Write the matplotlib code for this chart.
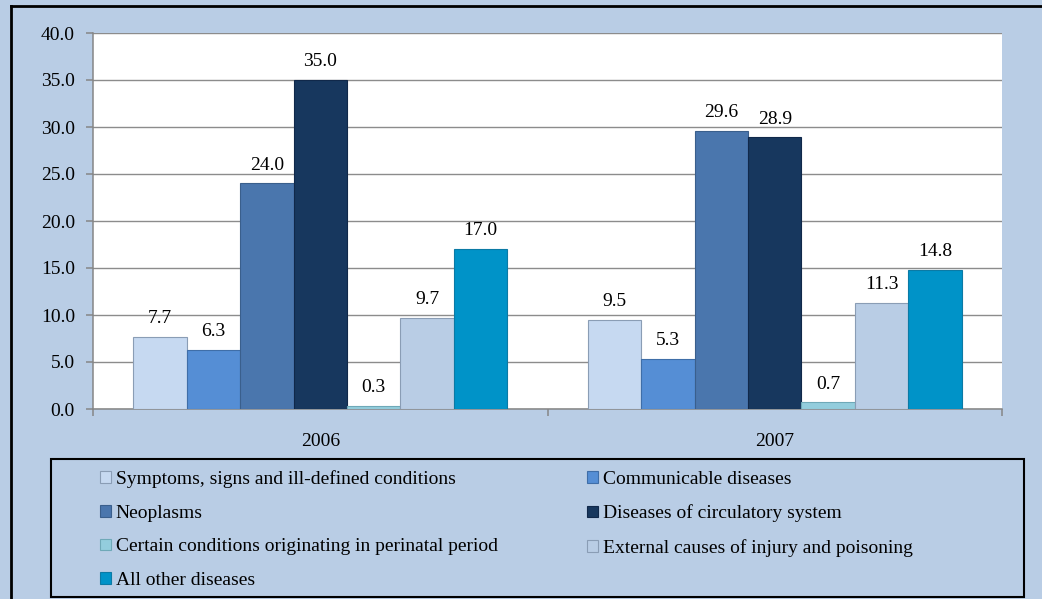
import matplotlib
matplotlib.use("Agg")
import matplotlib.pyplot as plt
import numpy as np
from matplotlib.lines import Line2D
from matplotlib.patches import Rectangle
from matplotlib.font_manager import FontProperties

years = ["2006", "2007"]
series = [
    "Symptoms, signs and ill-defined conditions",
    "Communicable diseases",
    "Neoplasms",
    "Diseases of circulatory system",
    "Certain conditions originating in perinatal period",
    "External causes of injury and poisoning",
    "All other diseases",
]
symptoms = [7.7, 9.5]
communicable = [6.3, 5.3]
neoplasms = [24.0, 29.6]
circulatory = [35.0, 28.9]
perinatal = [0.3, 0.7]
external = [9.7, 11.3]
other = [17.0, 14.8]
values = [symptoms, communicable, neoplasms, circulatory, perinatal, external, other]

colors = ["#C6D9F1", "#558ED5", "#4A76AD", "#17375E", "#93CDDD", "#B9CDE5", "#0093C8"]
edges = ["#8A9DB5", "#3F6EA8", "#3A5F8C", "#10284A", "#6FA9B8", "#8A9DB5", "#0B7AA5"]

bg = "#B9CDE5"
plt.rcParams['font.family'] = ['Liberation Serif', 'DejaVu Serif']
fp = FontProperties(family=['Liberation Serif', 'DejaVu Serif'], size=14)

W, H = 1042, 599
fig = plt.figure(figsize=(W / 100, H / 100), dpi=100, facecolor=bg)
ax = fig.add_axes([93 / W, 1 - 409 / H, (1002 - 93) / W, (409 - 33) / H])
ax.set_facecolor("white")

n = len(series)
bw = 1.0 / (n + 1.5)
x = np.arange(len(years))
handles = []
for i, (name, vals) in enumerate(zip(series, values)):
    pos = x - 0.5 + 0.75 * bw + (i + 0.5) * bw
    b = ax.bar(pos, vals, width=bw, color=colors[i], edgecolor=edges[i], linewidth=0.8,
               label=name, zorder=3)
    ax.bar_label(b, labels=[f"{v:.1f}" for v in vals], padding=7, fontproperties=fp, color="black")
    handles.append(b)

ax.set_xlim(-0.5, 1.5)
ax.set_ylim(0, 40)
ax.set_yticks(np.arange(0, 45, 5))
ax.set_yticklabels([f"{v:.1f}" for v in np.arange(0, 45, 5)], fontproperties=fp)
ax.set_xticks(x)
ax.set_xticklabels(years, fontproperties=fp)
ax.set_xticks([-0.5, 0.5, 1.5], minor=True)
ax.tick_params(axis="x", which="major", length=0, pad=17)
ax.tick_params(axis="x", which="minor", length=5, color="#868686", width=1.1, direction="out")
ax.tick_params(axis="y", length=5, color="#868686", width=1.1, pad=8)
ax.yaxis.grid(True, color="#8C8C8C", linewidth=1.0, zorder=0)
ax.set_axisbelow(True)
for s in ["top", "right"]:
    ax.spines[s].set_visible(False)
for s in ["left", "bottom"]:
    ax.spines[s].set_color("#868686")
    ax.spines[s].set_linewidth(1.1)

# legend: row-major order in two columns
order = [0, 2, 4, 6, 1, 3, 5]
leg = fig.legend(handles=[handles[i] for i in order], labels=[series[i] for i in order],
                 ncol=2, loc="upper left",
                 bbox_to_anchor=(100 / W, 1 - 470 / H),
                 prop=fp, frameon=False,
                 handlelength=0.55, handleheight=0.55, handletextpad=0.25,
                 labelspacing=0.86, borderaxespad=0, borderpad=0, columnspacing=4.6)

fig.add_artist(Rectangle((51 / W, 1 - 597 / H), (1024 - 51) / W, (597 - 459) / H,
                         transform=fig.transFigure, facecolor="none", edgecolor="black",
                         linewidth=1.5, zorder=1))

fig.add_artist(Line2D([11 / W, 11 / W], [0, 1 - 6 / H], transform=fig.transFigure, color="black", linewidth=2))
fig.add_artist(Line2D([11 / W, 1], [1 - 6 / H, 1 - 6 / H], transform=fig.transFigure, color="black", linewidth=2))

fig.savefig("out.png", dpi=100, facecolor=bg)
